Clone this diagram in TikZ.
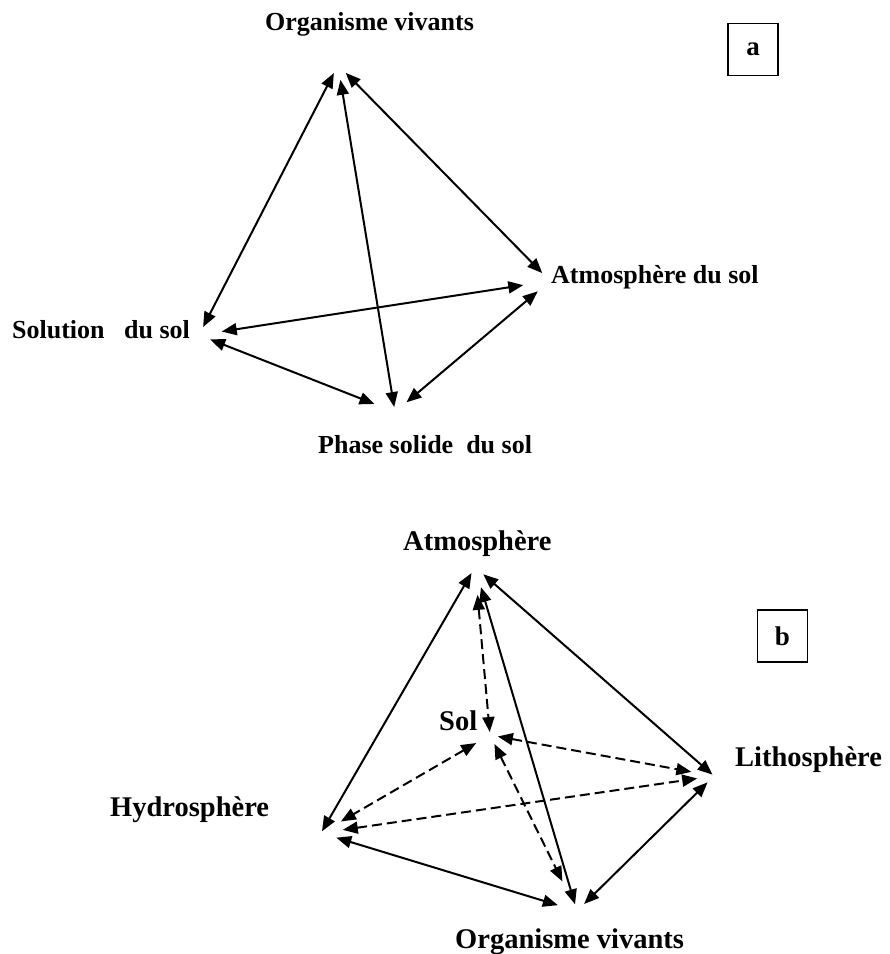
\documentclass[tikz,border=0pt]{standalone}
\usepackage{fontspec}
\setmainfont{Liberation Serif}
\usetikzlibrary{arrows.meta}

\begin{document}
\begin{tikzpicture}[x=1pt,y=-1pt,
  lab/.style={font=\fontsize{26}{30}\selectfont\bfseries,inner sep=0pt,anchor=base west},
  labb/.style={lab,font=\fontsize{28.5}{33}\selectfont\bfseries},
  tag/.style={draw,line width=1.6pt,minimum width=50pt,minimum height=52pt,inner sep=0pt,font=\fontsize{27}{30}\selectfont\bfseries},
  fl/.style={{Triangle[length=15pt,width=12pt]}-{Triangle[length=15pt,width=12pt]},line width=2pt,shorten <=11pt,shorten >=11pt},
  fld/.style={fl,dash pattern=on 10pt off 5pt},
]
\useasboundingbox (0,0) rectangle (890,954);
% (a) sommets
\coordinate (ova) at (338,65);
\coordinate (sola) at (199,335);
\coordinate (atma) at (550,281);
\coordinate (pha) at (395,412);
\draw[fl,shorten <=9pt,shorten >=9pt] (sola) -- (ova);
\draw[fl,shorten <=15pt,shorten >=5pt] (ova) -- (pha);
\draw[fl] (ova) -- (atma);
\draw[fl,shorten <=23pt,shorten >=27pt] (sola) -- (atma);
\draw[fl,shorten <=12pt,shorten >=22pt] (sola) -- (pha);
\draw[fl,shorten <=15pt,shorten >=16pt] (pha) -- (atma);
\node[lab] (tova) at (265,30) {Organisme vivants};
\node[lab] (tatma) at (551,283) {Atmosphère du sol};
\node[lab] (tsola) at (12,338) {Solution\ \ \ du sol};
\node[lab] (tpha) at (318,453) {Phase solide\ \ du sol};
\node[tag] (taga) at (753,49.5) {a};
% (b) sommets
\coordinate (atmb) at (475,567);
\coordinate (solb) at (490,735);
\coordinate (hydb) at (321,833);
\coordinate (litb) at (714,776);
\coordinate (orgb) at (577,911);
\draw[fl,shorten <=7pt,shorten >=2pt] (atmb) -- (hydb);
\draw[fl,shorten <=21pt,shorten >=7pt] (atmb) -- (orgb);
\draw[fl,shorten <=11pt,shorten >=2pt] (atmb) -- (litb);
\draw[fl,shorten <=16pt,shorten >=20pt] (hydb) -- (orgb);
\draw[fl,shorten <=9pt,shorten >=10pt] (litb) -- (orgb);
\draw[fld,shorten <=28pt,shorten >=3pt] (atmb) -- (solb);
\draw[fld,shorten <=8pt,shorten >=23pt] (solb) -- (litb);
\draw[fld,shorten <=16pt,shorten >=23pt] (solb) -- (hydb);
\draw[fld,shorten <=10pt,shorten >=33pt] (solb) -- (orgb);
\draw[fld,shorten <=22pt,shorten >=17pt] (hydb) -- (litb);
\node[labb] (tatmb) at (403,550) {Atmosphère};
\node[labb] (tsolb) at (439,730) {Sol};
\node[labb] (thydb) at (110,816) {Hydrosphère};
\node[labb] (tlitb) at (735,766) {Lithosphère};
\node[labb] (torgb) at (455,948) {Organisme vivants};
\node[tag] (tagb) at (782.5,636) {b};
\end{tikzpicture}
\end{document}
